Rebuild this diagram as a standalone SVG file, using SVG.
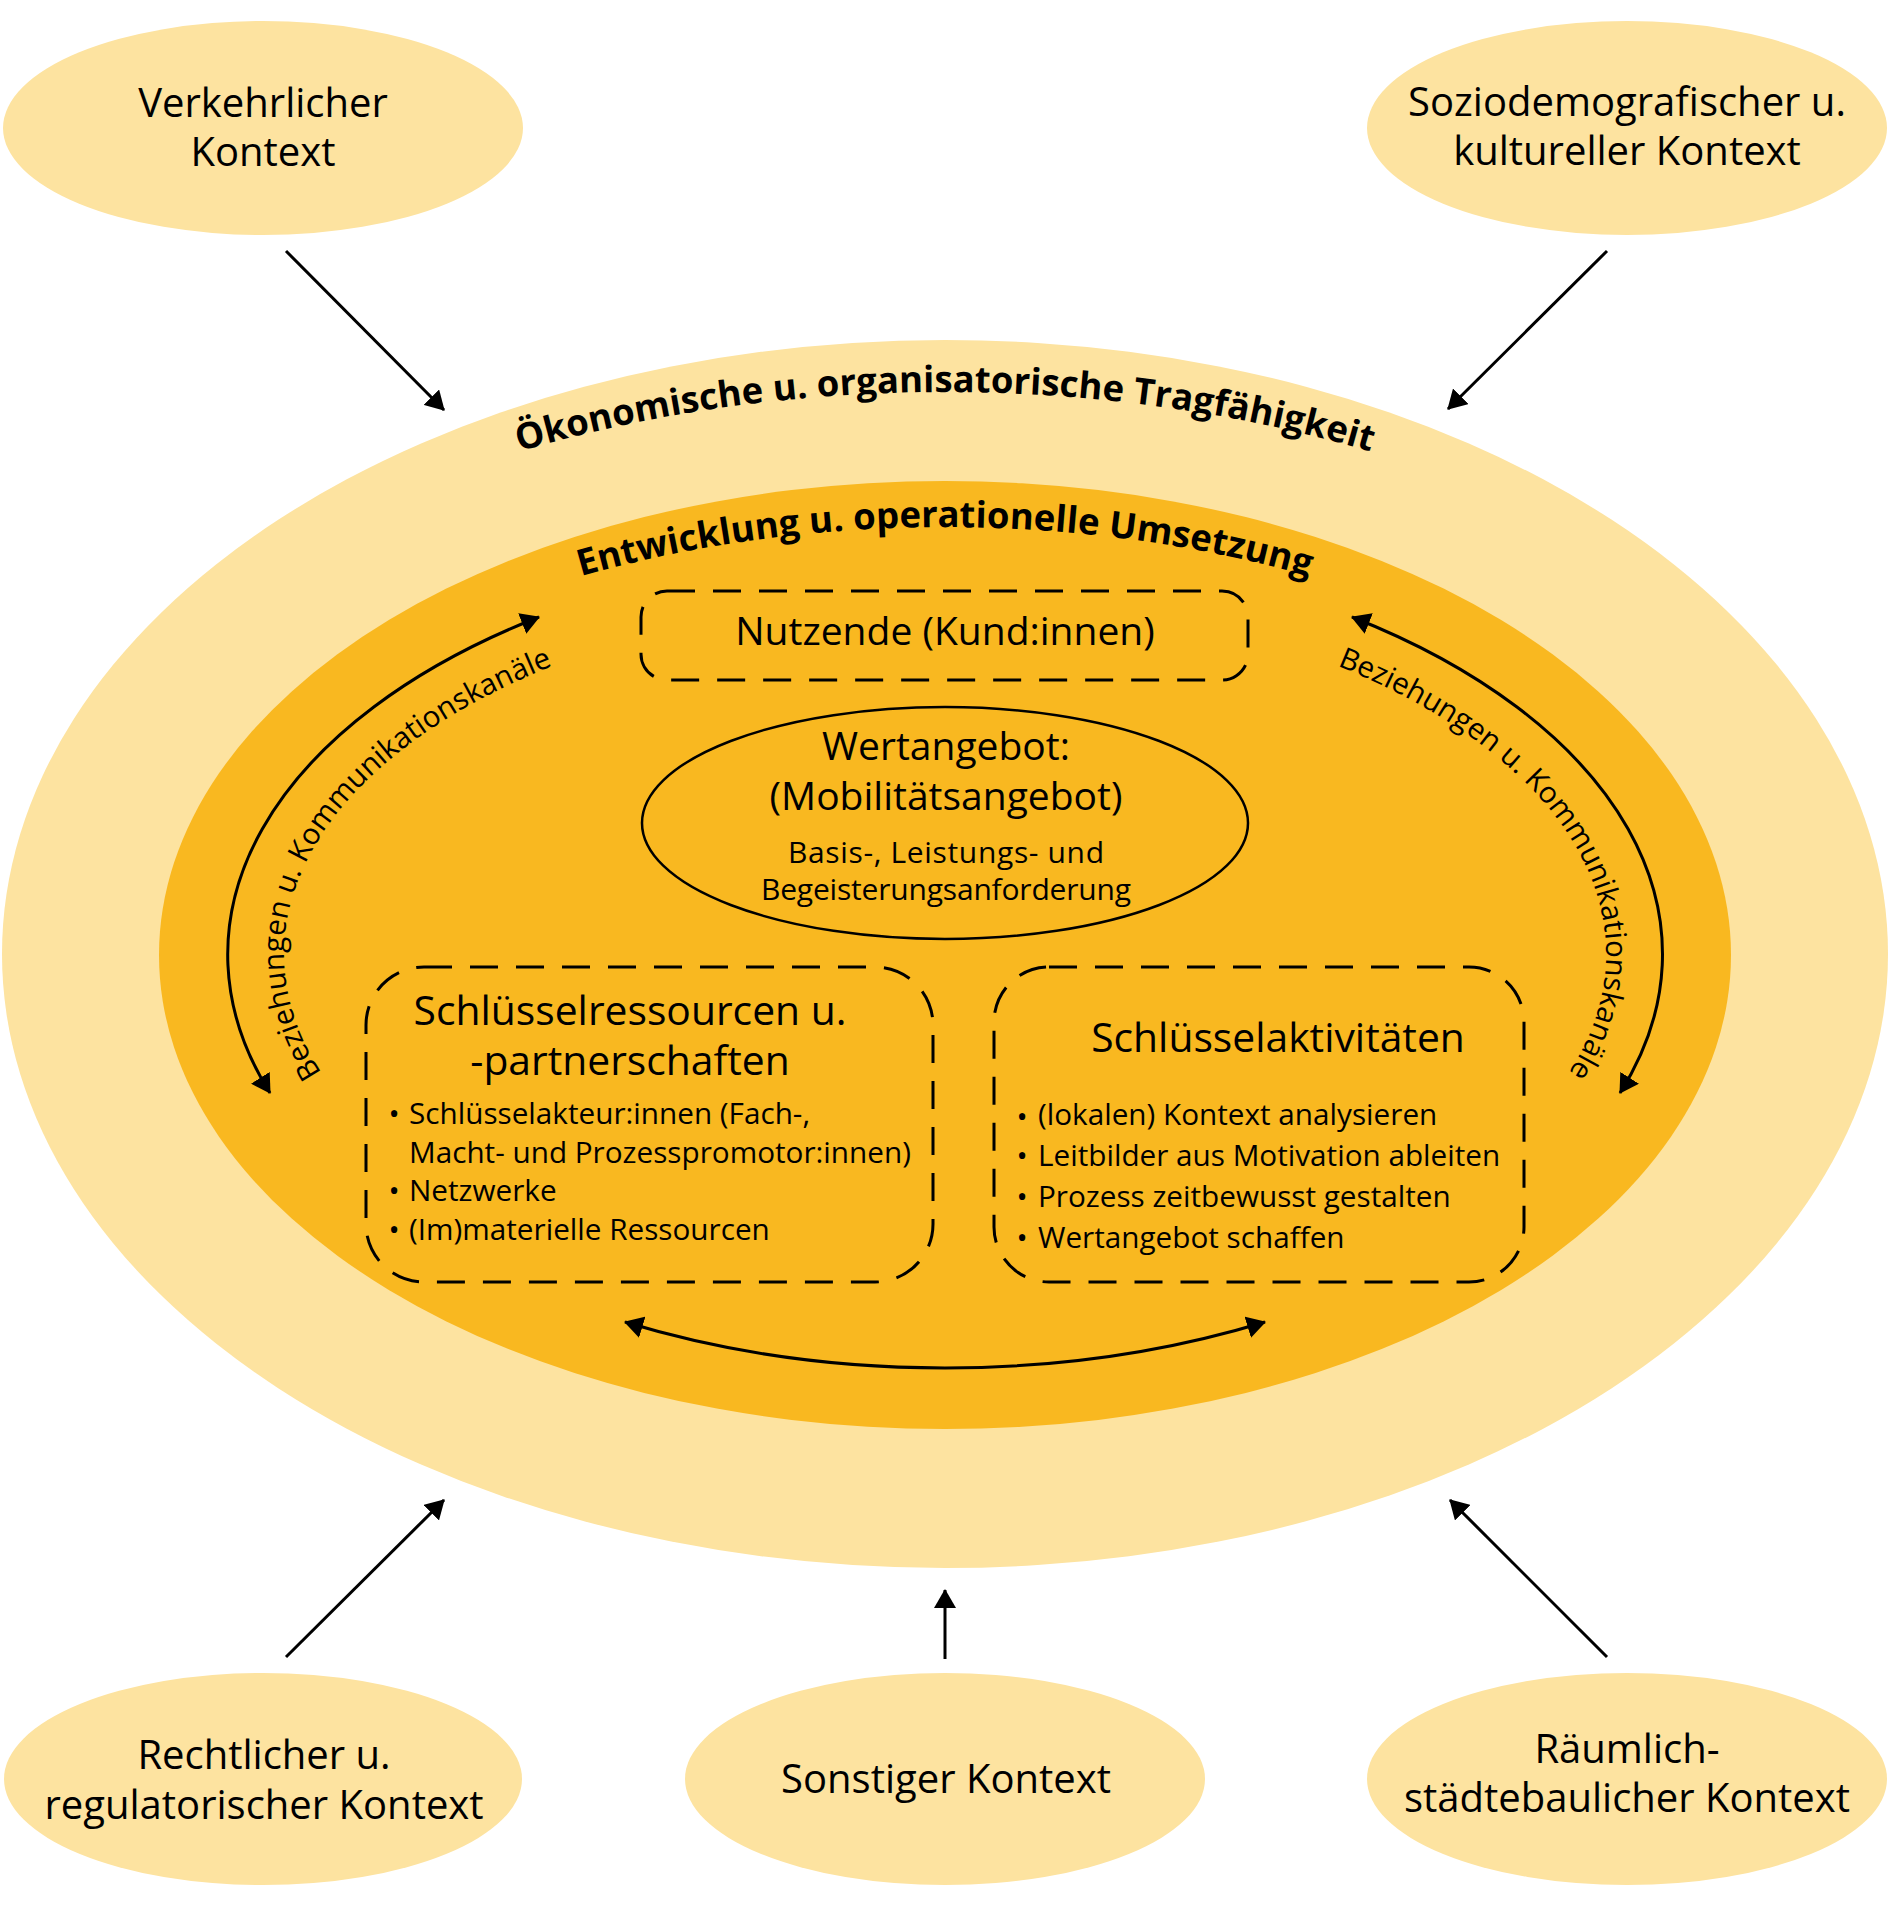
<svg xmlns="http://www.w3.org/2000/svg" width="1891" height="1918" viewBox="0 0 1891 1918">
  <defs>
    <style>
      text { font-family: "Open Sans", "Noto Sans", "DejaVu Sans", sans-serif; fill: #000; }
      .ctx { font-size: 40px; text-anchor: middle; }
      .ring { font-size: 36.5px; font-weight: bold; }
      .title { font-size: 39px; text-anchor: middle; }
      .btitle { font-size: 40.8px; text-anchor: middle; }
      .small { font-size: 29.7px; }
      .curve { font-size: 29.5px; }
      .mid { text-anchor: middle; }
      .light { fill: #FDE3A0; }
      .dark { fill: #F9B820; }
      .dash { fill: none; stroke: #000; stroke-width: 3; stroke-dasharray: 28 18; }
      .conn { fill: none; stroke: #000; stroke-width: 3; marker-end: url(#ah); }
      .both { marker-start: url(#ah); }
    </style>
    <marker id="ah" viewBox="0 0 19 22" refX="18" refY="11" markerWidth="19" markerHeight="22" markerUnits="userSpaceOnUse" orient="auto-start-reverse">
      <path d="M0,0 L19,11 L0,22 z" fill="#000"/>
    </marker>
    <path id="arcOuter" d="M -5,954 A 950 562 0 0 1 1895,954"/>
    <path id="arcInner" d="M 163,955 A 782 428 0 0 1 1727,955"/>
    <path id="arcLeft" d="M 321.5,1072.9 A 661 358 0 0 1 552.8,665.8"/>
    <path id="arcRight" d="M 1337.2,665.8 A 661 358 0 0 1 1568.5,1072.9"/>
  </defs>

  <g id="ring-oekonomisch">
    <ellipse class="light" cx="945" cy="954" rx="943" ry="614"/>
    <text class="ring"><textPath href="#arcOuter" startOffset="50%" text-anchor="middle">Ökonomische u. organisatorische Tragfähigkeit</textPath></text>
  </g>

  <g id="ring-entwicklung">
    <ellipse class="dark" cx="945" cy="955" rx="786" ry="474"/>
    <text class="ring"><textPath href="#arcInner" startOffset="50%" text-anchor="middle">Entwicklung u. operationelle Umsetzung</textPath></text>
  </g>

  <g id="ctx-verkehr">
    <ellipse class="light" cx="263" cy="128" rx="260" ry="107"/>
    <text class="ctx" x="263" y="117">Verkehrlicher</text>
    <text class="ctx" x="263" y="166">Kontext</text>
  </g>
  <g id="ctx-sozio">
    <ellipse class="light" cx="1627" cy="128" rx="260" ry="107"/>
    <text class="ctx" x="1627" y="116">Soziodemografischer u.</text>
    <text class="ctx" x="1627" y="165">kultureller Kontext</text>
  </g>
  <g id="ctx-recht">
    <ellipse class="light" cx="263" cy="1779" rx="259" ry="106"/>
    <text class="ctx" x="264" y="1769">Rechtlicher u.</text>
    <text class="ctx" x="264" y="1819">regulatorischer Kontext</text>
  </g>
  <g id="ctx-sonst">
    <ellipse class="light" cx="945" cy="1779" rx="260" ry="106"/>
    <text class="ctx" x="946" y="1793">Sonstiger Kontext</text>
  </g>
  <g id="ctx-raum">
    <ellipse class="light" cx="1627" cy="1779" rx="260" ry="106"/>
    <text class="ctx" x="1627" y="1763">Räumlich-</text>
    <text class="ctx" x="1627" y="1812">städtebaulicher Kontext</text>
  </g>

  <g id="node-nutzende">
    <rect class="dash" x="641" y="591" width="607" height="89" rx="26" ry="26"/>
    <text class="title" x="945" y="645">Nutzende (Kund:innen)</text>
  </g>

  <g id="node-wertangebot">
    <ellipse cx="945" cy="823" rx="303" ry="116" fill="none" stroke="#000" stroke-width="2.5"/>
    <text class="title" x="946" y="760">Wertangebot:</text>
    <text class="title" x="946" y="810">(Mobilitätsangebot)</text>
    <text class="mid" style="font-size:30px" x="946" y="863" textLength="316" lengthAdjust="spacing">Basis-, Leistungs- und</text>
    <text class="mid" style="font-size:30px" x="946" y="900" textLength="370" lengthAdjust="spacing">Begeisterungsanforderung</text>
  </g>

  <g id="node-ressourcen">
    <rect class="dash" x="366" y="967" width="567" height="315" rx="58" ry="58"/>
    <text class="btitle" x="630" y="1025">Schlüsselressourcen u.</text>
    <text class="btitle" x="630" y="1075">-partnerschaften</text>
    <text class="small mid" x="394" y="1124">•</text>
    <text class="small" x="409" y="1124">Schlüsselakteur:innen (Fach-,</text>
    <text class="small" x="409" y="1163">Macht- und Prozesspromotor:innen)</text>
    <text class="small mid" x="394" y="1201">•</text>
    <text class="small" x="409" y="1201">Netzwerke</text>
    <text class="small mid" x="394" y="1240">•</text>
    <text class="small" x="409" y="1240">(Im)materielle Ressourcen</text>
  </g>

  <g id="node-aktivitaeten">
    <rect class="dash" x="994" y="967" width="530" height="315" rx="55" ry="55"/>
    <text class="btitle" x="1278" y="1052">Schlüsselaktivitäten</text>
    <text class="small mid" x="1022" y="1127">•</text>
    <text class="small" x="1038" y="1125">(lokalen) Kontext analysieren</text>
    <text class="small mid" x="1022" y="1166">•</text>
    <text class="small" x="1038" y="1166">Leitbilder aus Motivation ableiten</text>
    <text class="small mid" x="1022" y="1207">•</text>
    <text class="small" x="1038" y="1207">Prozess zeitbewusst gestalten</text>
    <text class="small mid" x="1022" y="1248">•</text>
    <text class="small" x="1038" y="1248">Wertangebot schaffen</text>
  </g>

  <g id="connectors">
    <path class="conn" d="M286,251 L444,410"/>
    <path class="conn" d="M1607,251 L1448,409"/>
    <path class="conn" d="M286,1657 L444,1500"/>
    <path class="conn" d="M945,1659 L945,1590"/>
    <path class="conn" d="M1607,1657 L1450,1500"/>
    <path class="conn both" stroke-width="2.5" d="M270,1093 A720 410 0 0 1 539,617"/>
    <path class="conn both" stroke-width="2.5" d="M1352,617 A720 410 0 0 1 1620,1093"/>
    <path class="conn both" d="M625,1322 A720 441 0 0 0 1265,1322"/>
    <text class="curve"><textPath href="#arcLeft" startOffset="50%" text-anchor="middle">Beziehungen u. Kommunikationskanäle</textPath></text>
    <text class="curve"><textPath href="#arcRight" startOffset="50%" text-anchor="middle">Beziehungen u. Kommunikationskanäle</textPath></text>
  </g>
</svg>
